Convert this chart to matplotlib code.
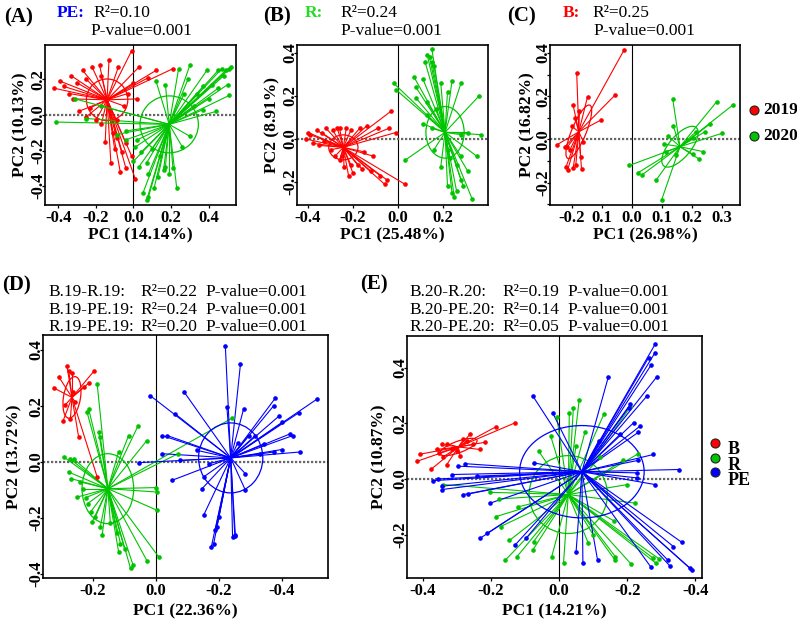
import numpy as np
import matplotlib
matplotlib.use('Agg')
import matplotlib.pyplot as plt
from matplotlib.patches import Ellipse
from matplotlib.lines import Line2D
from matplotlib.collections import LineCollection

plt.rcParams['font.family'] = ['Liberation Serif', 'DejaVu Serif']
plt.rcParams['axes.unicode_minus'] = False

RED = '#FF0000'
GREEN = '#00C400'
BLUE = '#0000FF'
TITLE_GREEN = '#22DD22'

# ---------------- Panel A (PE) ----------------
A_2019_x = [-0.01, -0.13, -0.22, -0.27, -0.33, -0.39, -0.42, -0.37, -0.30, -0.25, -0.17, -0.08, 0.03, 0.08, 0.21,
            0.12, 0.00, -0.03, -0.29, -0.25, -0.20, -0.23, -0.17, -0.11, -0.09, -0.04, -0.06, -0.10, -0.01, -0.04,
            0.01, -0.09, -0.32, -0.34, -0.18, -0.05, 0.02, -0.12, -0.07, -0.15]
A_2019_y = [0.36, 0.31, 0.27, 0.25, 0.22, 0.19, 0.15, 0.16, 0.18, 0.20, 0.22, 0.27, 0.27, 0.21, 0.26,
            0.25, 0.18, 0.12, 0.02, -0.01, -0.03, 0.04, -0.05, -0.10, -0.13, -0.16, -0.21, -0.19, -0.23, -0.30,
            -0.36, -0.03, 0.09, 0.12, 0.28, 0.05, 0.09, -0.27, -0.32, -0.15]
A_2019_center = (-0.14, 0.085)
A_2019_ell = (0.11, 0.117, 0)

A_2020_x = [0.52, 0.51, 0.49, 0.47, 0.45, 0.39, 0.48, 0.50, 0.45, 0.42, 0.37, 0.34, 0.51, 0.40, 0.30, 0.24, 0.29,
            0.17, 0.12, 0.27, 0.32, 0.37, 0.44, -0.41, -0.31, -0.25, -0.17, -0.04, -0.09, -0.04, 0.07, 0.05, 0.08,
            0.11, 0.13, 0.16, 0.19, 0.17, 0.08, 0.03, 0.04, 0.10, 0.01, 0.02, 0.23, 0.21, 0.07, 0.14, 0.00, 0.30, 0.26]
A_2020_y = [0.27, 0.26, 0.25, 0.26, 0.25, 0.25, 0.22, 0.17, 0.15, 0.17, 0.16, 0.12, 0.11, 0.09, 0.28, 0.26, 0.20,
            0.17, 0.19, 0.12, 0.05, 0.03, 0.02, -0.04, 0.09, -0.02, 0.05, -0.09, -0.11, -0.14, -0.48, -0.44, -0.46,
            -0.41, -0.35, -0.31, -0.33, -0.29, -0.33, -0.29, -0.21, -0.19, -0.18, -0.14, -0.41, -0.30, -0.27, -0.23,
            -0.26, -0.12, -0.18]
A_2020_center = (0.19, -0.053)
A_2020_ell = (0.155, 0.16, 0)

# ---------------- Panel B (R) ----------------
B_2019_x = [-0.03, -0.04, -0.01, -0.09, -0.14, -0.17, -0.40, -0.39, -0.36, -0.34, -0.32, -0.29, -0.27, -0.26, -0.23,
            -0.21, -0.41, -0.38, -0.35, -0.33, -0.30, -0.28, -0.26, -0.24, -0.21, -0.18, -0.16, -0.12, -0.08, -0.05,
            -0.06, 0.03, -0.11, -0.15, -0.20, -0.22, -0.25]
B_2019_y = [0.13, 0.05, 0.03, 0.05, 0.06, 0.05, 0.03, 0.02, 0.04, 0.03, 0.05, 0.04, 0.05, 0.05, 0.05,
            0.04, 0.00, -0.02, -0.03, -0.01, -0.05, -0.08, -0.10, -0.13, -0.12, -0.12, -0.14, -0.15, -0.17, -0.19,
            -0.21, -0.21, -0.08, -0.06, -0.16, -0.17, -0.08]
B_2019_center = (-0.243, -0.039)
B_2019_ell = (0.065, 0.058, 0)

B_2020_x = [0.15, 0.13, 0.14, 0.12, 0.15, 0.16, 0.11, 0.07, -0.02, -0.01, 0.08, 0.19, 0.24, 0.28, 0.22, 0.08,
            0.13, 0.17, 0.13, 0.36, 0.11, 0.15, 0.31, 0.37, 0.28, 0.03, 0.16, 0.19, 0.22, 0.24, 0.25, 0.26, 0.28,
            0.29, 0.33, 0.31, 0.26, 0.35, 0.23, 0.22, 0.28]
B_2020_y = [0.42, 0.39, 0.38, 0.36, 0.36, 0.34, 0.28, 0.29, 0.26, 0.23, 0.24, 0.26, 0.27, 0.26, 0.22, 0.19,
            0.17, 0.14, 0.11, 0.20, 0.07, 0.05, 0.03, 0.02, 0.02, -0.10, -0.05, -0.13, -0.22, -0.25, -0.27, -0.24, -0.19,
            -0.22, -0.28, -0.15, -0.12, -0.08, -0.09, -0.05, -0.08]
B_2020_center = (0.209, 0.031)
B_2020_ell = (0.085, 0.12, 0)

# ---------------- Panel C (B) ----------------
C_2019_x = [-0.027, -0.184, -0.057, -0.148, -0.196, -0.19, -0.104, -0.251, -0.223, -0.216, -0.22, -0.214, -0.196,
            -0.187, -0.168, -0.171, -0.207, -0.162, -0.20, -0.175]
C_2019_y = [0.412, 0.307, 0.204, 0.197, 0.158, 0.10, 0.089, -0.026, -0.034, -0.037, -0.129, -0.141, -0.134,
            -0.118, -0.138, -0.08, -0.049, -0.011, 0.06, 0.13]
C_2019_center = (-0.177, 0.035)
C_2019_ell = (0.129, 0.025, 74)

C_2020_x = [0.136, 0.282, 0.338, 0.26, 0.30, 0.243, 0.238, 0.223, 0.138, 0.121, 0.107, 0.113, 0.147, 0.202,
            0.204, 0.213, -0.009, 0.021, 0.034, 0.08, 0.099]
C_2020_y = [0.186, 0.174, 0.161, 0.071, 0.028, 0.035, -0.057, -0.091, 0.061, 0.015, -0.022, -0.057, -0.072, -0.068,
            0.005, 0.035, -0.121, -0.154, -0.164, -0.19, -0.28]
C_2020_center = (0.16, -0.034)
C_2020_ell = (0.105, 0.04, 62)

# ---------------- Panel D (2019 habitats) ----------------
D_B_x = [-0.283, -0.309, -0.325, -0.277, -0.267, -0.198, -0.214, -0.23, -0.288, -0.295, -0.272, -0.246, -0.187,
         -0.263, -0.256]
D_B_y = [0.344, 0.305, 0.265, 0.326, 0.32, 0.324, 0.282, 0.267, 0.205, 0.148, 0.154, 0.091, -0.053, 0.249, 0.214]
D_B_center = (-0.267, 0.231)
D_B_ell = (0.075, 0.027, 82)

D_R_x = [-0.187, -0.219, -0.214, -0.182, -0.177, -0.057, -0.087, -0.029, -0.119, 0.241, -0.293, -0.274, -0.277,
         -0.27, -0.24, -0.232, -0.224, -0.217, -0.208, -0.193, -0.203, -0.177, -0.171, -0.124, -0.119, -0.113, -0.081,
         -0.073, -0.029, 0.008, 0.003, 0.003, 0.001, -0.145, -0.251, 0.07, -0.26, -0.10]
D_R_y = [0.279, 0.178, 0.19, 0.107, 0.089, 0.13, 0.095, 0.077, 0.036, 0.157, 0.018, 0.012, -0.036,
         -0.059, -0.071, -0.095, -0.127, -0.148, -0.178, -0.196, -0.214, -0.231, -0.261, -0.255, -0.32, -0.291, -0.38,
         -0.368, -0.352, -0.338, -0.172, -0.107, -0.091, -0.219, -0.125, 0.03, 0.01, -0.31]
D_R_center = (-0.153, -0.095)
D_R_ell = (0.082, 0.125, 0)

D_PE_x = [0.22, 0.268, 0.09, -0.018, 0.061, 0.019, 0.035, 0.019, 0.051, -0.055, 0.075, 0.13, 0.167, 0.151, 0.146,
          0.151, 0.175, 0.183, 0.188, 0.193, 0.199, 0.243, 0.252, 0.284, 0.284, 0.225, 0.278, 0.294, 0.315, 0.374,
          0.379, 0.39, 0.40, 0.426, 0.435, 0.453, 0.511, 0.456, 0.40, 0.374, 0.331, 0.342, 0.25, 0.26]
D_PE_y = [0.415, 0.35, 0.249, 0.237, 0.172, 0.095, 0.095, 0.03, -0.065, -0.002, 0.006, 0.042, -0.006, -0.053, -0.095,
          -0.19, -0.305, -0.291, -0.243, -0.231, -0.196, -0.269, -0.265, -0.101, -0.042, 0.196, 0.19, 0.095, 0.095, 0.202,
          0.229, 0.164, 0.142, 0.101, 0.095, 0.176, 0.225, 0.036, 0.045, 0.036, 0.03, 0.065, -0.26, 0.07]
D_PE_center = (0.237, 0.015)
D_PE_ell = (0.102, 0.125, 0)

# ---------------- Panel E (2020 habitats) ----------------
E_B_x = [-0.129, -0.185, -0.218, -0.262, -0.281, -0.33, -0.345, -0.36, -0.352, -0.409, -0.419, -0.375, -0.33,
         -0.291, -0.252, -0.232, -0.316, -0.272, -0.30, -0.34]
E_B_y = [0.202, 0.188, 0.132, 0.16, 0.142, 0.126, 0.124, 0.106, 0.094, 0.089, 0.063, 0.036, 0.052,
         0.082, 0.124, 0.106, 0.106, 0.136, 0.10, 0.08]
E_B_center = (-0.296, 0.115)
E_B_ell = (0.06, 0.02, 25)

E_R_x = [0.059, 0.042, 0.03, -0.007, 0.076, 0.132, -0.025, 0.209, 0.233, 0.189, 0.201, 0.224, -0.203, -0.178,
         -0.34, -0.185, -0.172, -0.146, -0.125, -0.159, -0.075, -0.077, -0.022, 0.013, 0.086, 0.165, 0.165, 0.211,
         0.277, 0.285, 0.295, -0.06, 0.12, 0.05, -0.12, 0.16, 0.10]
E_R_y = [0.284, 0.256, 0.238, 0.224, 0.168, 0.234, 0.156, 0.258, 0.091, 0.067, -0.02, -0.087, -0.048, -0.072,
         -0.02, -0.135, -0.171, -0.221, -0.281, -0.293, -0.225, -0.255, -0.281, -0.303, -0.231, -0.279, -0.293, -0.305,
         -0.285, -0.303, -0.288, 0.10, 0.08, 0.12, -0.10, -0.15, -0.20]
E_R_center = (0.027, -0.056)
E_R_ell = (0.115, 0.14, 0)

E_PE_x = [0.282, 0.282, 0.263, 0.27, 0.287, 0.258, 0.209, 0.204, 0.145, 0.219, 0.238, 0.233, 0.179, 0.116, 0.277,
          0.233, 0.228, 0.228, 0.351, 0.282, -0.077, -0.019, -0.075, -0.276, -0.296, -0.355, -0.372, -0.345, -0.345,
          -0.281, -0.267, -0.203, -0.316, -0.242, -0.232, -0.211, -0.129, -0.097, 0.05, 0.07, 0.113, 0.27, 0.319,
          0.326, 0.336, 0.361, 0.385, 0.39]
E_PE_y = [0.484, 0.454, 0.436, 0.409, 0.367, 0.298, 0.268, 0.256, 0.368, 0.202, 0.19, 0.168, 0.16, 0.136, 0.088,
          0.067, 0.022, 0.004, 0.034, -0.02, 0.298, 0.238, 0.058, 0.055, 0.046, 0.0, -0.006, -0.026, -0.038,
          -0.056, -0.054, -0.087, 0.016, 0.01, -0.213, -0.195, -0.237, -0.213, -0.261, -0.303, -0.291, -0.317, -0.291,
          -0.313, -0.243, -0.228, -0.321, -0.327]
E_PE_center = (0.067, 0.026)
E_PE_ell = (0.183, 0.166, 0)

W, H = 797, 623
fig = plt.figure(figsize=(W / 100, H / 100), dpi=100)


def px_axes(l, t, r, b):
    return fig.add_axes([l / W, 1 - b / H, (r - l) / W, (b - t) / H])


def ftext(x, y, s, **kw):
    return fig.text(x / W, 1 - y / H, s, **kw)


def spider(ax, xs, ys, center, ell, color):
    cx, cy = center
    segs = [[(cx, cy), (x, y)] for x, y in zip(xs, ys)]
    ax.add_collection(LineCollection(segs, colors=color, linewidths=0.8, zorder=3))
    ax.plot(xs, ys, 'o', ms=2.3, color=color, mec=color, zorder=4)
    a, b, ang = ell
    ax.add_patch(Ellipse((cx, cy), 2 * a, 2 * b, angle=ang, fill=False, ec=color, lw=0.9, zorder=3))


def setup(ax, xlim, ylim, xticks, xlabels, yticks, ylabels, xlabel, ylabel, xl_off, yl_off):
    ax.set_xlim(xlim)
    ax.set_ylim(ylim)
    ax.axvline(0, color='black', lw=0.8, zorder=2)
    ax.axhline(0, color='#666666', lw=1.6, ls=(0, (1, 0.8)), zorder=2)
    ax.set_xticks(xticks)
    ax.set_xticklabels(xlabels, fontsize=12, fontweight='bold')
    ax.set_yticks(yticks)
    ax.set_yticklabels(ylabels, fontsize=12, fontweight='bold', rotation=90, va='center')
    ax.tick_params(direction='out', length=2.2, width=0.9)
    ax.tick_params(axis='x', pad=1.2)
    ax.tick_params(axis='y', pad=-3.2)
    for s in ax.spines.values():
        s.set_linewidth(1.2)
    ax.set_xlabel(xlabel, fontsize=12.5, fontweight='bold')
    ax.set_ylabel(ylabel, fontsize=12.5, fontweight='bold')
    bb = ax.get_position()
    ax.xaxis.set_label_coords(0.5, -xl_off / (bb.height * H))
    ax.xaxis.label.set_va('center')
    ax.yaxis.set_label_coords(-yl_off / (bb.width * W), 0.5)
    ax.yaxis.label.set_va('center')


# Panel A
axA = px_axes(45, 45, 236, 205)
spider(axA, A_2019_x, A_2019_y, A_2019_center, A_2019_ell, RED)
spider(axA, A_2020_x, A_2020_y, A_2020_center, A_2020_ell, GREEN)
setup(axA, (-0.47, 0.545), (-0.506, 0.393), [-0.4, -0.2, 0, 0.2, 0.4], ['-0.4', '-0.2', '0.0', '0.2', '0.4'],
      [-0.4, -0.2, 0, 0.2], ['-0.4', '-0.2', '0.0', '0.2'], 'PC1 (14.14%)', 'PC2 (10.13%)', 30, 25)

# Panel B
axB = px_axes(297, 45, 488, 205)
spider(axB, B_2019_x, B_2019_y, B_2019_center, B_2019_ell, RED)
spider(axB, B_2020_x, B_2020_y, B_2020_center, B_2020_ell, GREEN)
setup(axB, (-0.449, 0.40), (-0.307, 0.437), [-0.4, -0.2, 0, 0.2], ['-0.4', '-0.2', '0.0', '0.2'],
      [-0.2, 0, 0.2, 0.4], ['-0.2', '0.0', '0.2', '0.4'], 'PC1 (25.48%)', 'PC2 (8.91%)', 30, 25)

# Panel C
axC = px_axes(550, 45, 740, 205)
spider(axC, C_2019_x, C_2019_y, C_2019_center, C_2019_ell, RED)
spider(axC, C_2020_x, C_2020_y, C_2020_center, C_2020_ell, GREEN)
setup(axC, (-0.273, 0.36), (-0.304, 0.437), [-0.2, -0.1, 0, 0.1, 0.2, 0.3], ['-0.2', '0.1', '0.0', '0.1', '0.2', '0.3'],
      [-0.3, -0.2, -0.1, 0, 0.1, 0.2, 0.3, 0.4], ['', '-0.2', '', '0.0', '', '0.2', '', '0.4'],
      'PC1 (26.98%)', 'PC2 (16.82%)', 30, 23)

# Panel D
axD = px_axes(43, 335, 328, 578)
spider(axD, D_B_x, D_B_y, D_B_center, D_B_ell, RED)
spider(axD, D_R_x, D_R_y, D_R_center, D_R_ell, GREEN)
spider(axD, D_PE_x, D_PE_y, D_PE_center, D_PE_ell, BLUE)
setup(axD, (-0.359, 0.546), (-0.414, 0.454), [-0.2, 0, 0.2, 0.4], ['-0.2', '0.0', '-0.2', '-0.4'],
      [-0.4, -0.2, 0, 0.2, 0.4], ['-0.4', '-0.2', '0.0', '0.2', '0.4'], 'PC1 (22.36%)', 'PC2 (13.72%)', 33, 29)

# Panel E
axE = px_axes(407, 336, 702, 578)
spider(axE, E_B_x, E_B_y, E_B_center, E_B_ell, RED)
spider(axE, E_R_x, E_R_y, E_R_center, E_R_ell, GREEN)
spider(axE, E_PE_x, E_PE_y, E_PE_center, E_PE_ell, BLUE)
setup(axE, (-0.447, 0.42), (-0.356, 0.514), [-0.4, -0.2, 0, 0.2, 0.4], ['-0.4', '-0.2', '0.0', '-0.2', '-0.4'],
      [-0.2, 0, 0.2, 0.4], ['-0.2', '0.0', '0.2', '0.4'], 'PC1 (14.21%)', 'PC2 (10.87%)', 33, 28)

# Panel letters
for x, y, s in [(4, 17, '(A)'), (263, 16, '(B)'), (507, 16, '(C)'), (2, 285, '(D)'), (360, 284, '(E)')]:
    ftext(x, y, s, fontsize=15, fontweight='bold', va='center', ha='left')

# Top titles
TS = 12.5
ftext(57, 13, 'PE:', fontsize=TS, fontweight='bold', color=BLUE, va='center')
ftext(93, 13, 'R²=0.10', fontsize=TS, va='center')
ftext(90, 31, 'P-value=0.001', fontsize=TS, va='center')
ftext(305, 13, 'R:', fontsize=TS, fontweight='bold', color=TITLE_GREEN, va='center')
ftext(340, 13, 'R²=0.24', fontsize=TS, va='center')
ftext(340, 31, 'P-value=0.001', fontsize=TS, va='center')
ftext(563, 13, 'B:', fontsize=TS, fontweight='bold', color=RED, va='center')
ftext(592, 13, 'R²=0.25', fontsize=TS, va='center')
ftext(593, 31, 'P-value=0.001', fontsize=TS, va='center')

# D / E statistics
D_rows = [('B.19-R.19:', 'R²=0.22', 'P-value=0.001'),
          ('B.19-PE.19:', 'R²=0.24', 'P-value=0.001'),
          ('R.19-PE.19:', 'R²=0.20', 'P-value=0.001')]
E_rows = [('B.20-R.20:', 'R²=0.19', 'P-value=0.001'),
          ('B.20-PE.20:', 'R²=0.14', 'P-value=0.001'),
          ('R.20-PE.20:', 'R²=0.05', 'P-value=0.001')]
for col_x, col in zip((48, 140, 205), zip(*D_rows)):
    ftext(col_x, 284, '\n'.join(col), fontsize=TS, va='top', linespacing=1.13)
for col_x, col in zip((409, 502, 567), zip(*E_rows)):
    ftext(col_x, 284, '\n'.join(col), fontsize=TS, va='top', linespacing=1.13)


# Legends
def leg_marker(x, y, color):
    fig.add_artist(Line2D([x / W], [1 - y / H], transform=fig.transFigure, marker='o', ms=6.5,
                          mfc=color, mec='#222222', mew=0.8, ls='none'))


leg_marker(754, 110, RED)
ftext(763, 110, '2019', fontsize=12.5, fontweight='bold', va='center')
leg_marker(754, 136, GREEN)
ftext(763, 136, '2020', fontsize=12.5, fontweight='bold', va='center')

LEG_GROUPS = ['B', 'R', 'PE']
for y, c in zip((443, 458, 472), (RED, GREEN, BLUE)):
    leg_marker(715, y, c)
ftext(728, 441, '\n'.join(LEG_GROUPS), fontsize=13, fontweight='bold', va='top', linespacing=0.9)

fig.savefig('out.png', dpi=100)
